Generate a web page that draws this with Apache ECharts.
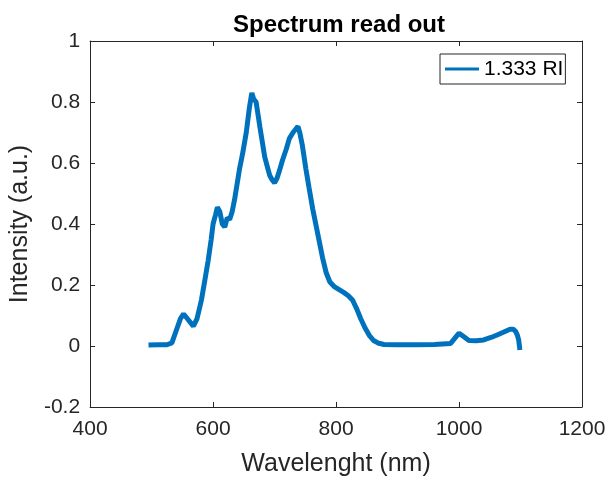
<!DOCTYPE html>
<html>
<head>
<meta charset="utf-8">
<script src="https://cdn.jsdelivr.net/npm/echarts@6/dist/echarts.min.js"></script>
<style>html,body{margin:0;padding:0;background:#fff}#c{width:611px;height:482px}</style>
</head>
<body>
<div id="c"></div>
<script>
var wavelengths = [495,510,525,533,540,547,552,558,564,568,574,581,587,592,597,600,604,607,611,615,619,623,627,631,635,639,643,648,654,659,663,666,670,673,676,680,684,688,692,696,700,704,708,713,719,724,730,734,738,741,745,751,756,762,768,773,778,784,790,797,805,813,820,827,834,840,847,854,861,868,878,900,930,960,986,993,1000,1008,1016,1028,1040,1052,1062,1072,1083,1088,1092,1095,1097,1099];
var intensities = [0.003,0.004,0.004,0.01,0.05,0.09,0.105,0.09,0.075,0.065,0.09,0.15,0.22,0.28,0.35,0.40,0.43,0.455,0.44,0.40,0.39,0.42,0.415,0.44,0.48,0.53,0.58,0.63,0.70,0.78,0.83,0.81,0.80,0.76,0.72,0.67,0.62,0.59,0.56,0.545,0.535,0.55,0.575,0.61,0.645,0.68,0.70,0.71,0.72,0.70,0.66,0.58,0.52,0.45,0.39,0.34,0.29,0.24,0.21,0.195,0.185,0.175,0.165,0.15,0.12,0.09,0.06,0.035,0.018,0.01,0.005,0.004,0.004,0.005,0.008,0.025,0.042,0.03,0.018,0.017,0.02,0.028,0.036,0.045,0.055,0.055,0.048,0.035,0.02,-0.013];
var seriesName = '1.333 RI';
var titleText = 'Spectrum read out';
var xLabel = 'Wavelenght (nm)';
var yLabel = 'Intensity (a.u.)';

var data = wavelengths.map(function(w, i){ return [w, intensities[i]]; });
var axisColor = '#262626';
var font = 'Liberation Sans, Arial, sans-serif';
var chart = echarts.init(document.getElementById('c'));
var baseAxis = {
  axisLine: {show: true, onZero: false, lineStyle: {color: axisColor, width: 1}},
  axisTick: {show: true, inside: true, length: 5, lineStyle: {color: axisColor}},
  splitLine: {show: false}
};
chart.setOption({
  animation: false,
  title: {text: titleText, left: 334, top: 8, textAlign: 'center',
    textStyle: {fontFamily: font, fontSize: 24, fontWeight: 'bold', color: '#000'}},
  grid: {left: 88, right: 29, top: 41, bottom: 75, containLabel: false},
  legend: {
    data: [{name: seriesName, icon: 'rect'}], left: 440, top: 54,
    borderColor: axisColor, borderWidth: 1, backgroundColor: '#fff',
    padding: [4, 2, 4, 5], itemWidth: 34, itemHeight: 3, itemGap: 5,
    itemStyle: {color: '#0072BD'},
    textStyle: {fontFamily: font, fontSize: 21, lineHeight: 22, color: '#000'}
  },
  xAxis: [
    Object.assign({}, baseAxis, {type: 'value', min: 400, max: 1200, interval: 200, position: 'bottom',
      name: xLabel, nameLocation: 'middle', nameGap: 45,
      nameTextStyle: {fontFamily: font, fontSize: 25, color: axisColor},
      axisLabel: {fontFamily: font, fontSize: 21, color: axisColor, margin: 12,
        formatter: function(v){ return String(v); }}}),
    Object.assign({}, baseAxis, {type: 'value', min: 400, max: 1200, interval: 200, position: 'top',
      axisLabel: {show: false}})
  ],
  yAxis: [
    Object.assign({}, baseAxis, {type: 'value', min: -0.2, max: 1, interval: 0.2, position: 'left',
      name: yLabel, nameLocation: 'middle', nameGap: 52,
      nameTextStyle: {fontFamily: font, fontSize: 25, color: axisColor},
      axisLabel: {fontFamily: font, fontSize: 21, color: axisColor, margin: 10,
        formatter: function(v){ return String(Math.round(v*10)/10); }}}),
    Object.assign({}, baseAxis, {type: 'value', min: -0.2, max: 1, interval: 0.2, position: 'right',
      axisLabel: {show: false}})
  ],
  series: [{
    name: seriesName, type: 'line', data: data, symbol: 'none', smooth: false,
    lineStyle: {color: '#0072BD', width: 5}, itemStyle: {color: '#0072BD'}
  }]
});
</script>
</body>
</html>
